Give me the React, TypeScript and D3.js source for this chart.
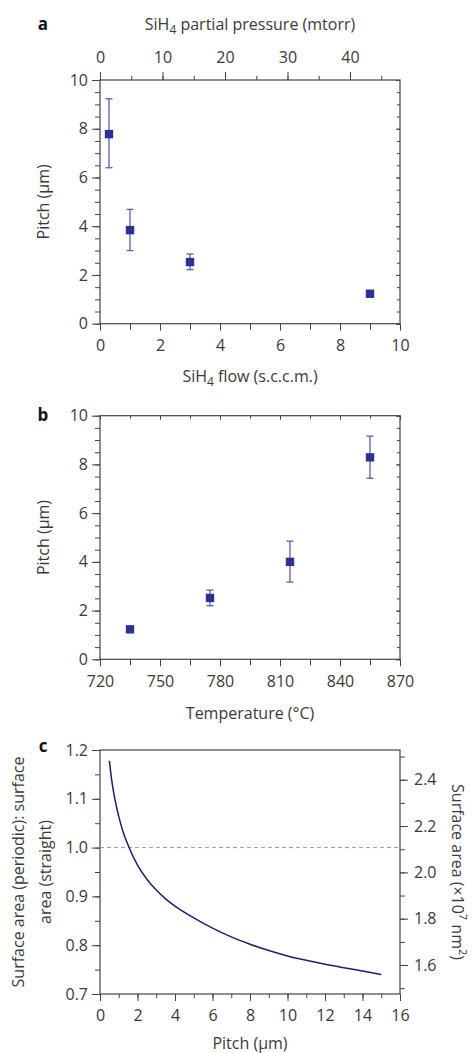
import React, { useEffect, useRef } from 'react';
import * as d3 from 'd3';

// panel a: pitch vs SiH4 flow
const flowA = [0.3, 1, 3, 9];
const pitchA = [7.78, 3.84, 2.53, 1.23];
const lowA = [6.4, 3.0, 2.22, 1.15];
const highA = [9.23, 4.69, 2.86, 1.32];

// panel b: pitch vs temperature
const tempB = [735, 775, 815, 855];
const pitchB = [1.23, 2.52, 4.0, 8.29];
const lowB = [1.15, 2.2, 3.17, 7.43];
const highB = [1.32, 2.84, 4.85, 9.16];

// panel c: surface area ratio vs pitch
const pitchC = [0.5, 0.6, 0.75, 1, 1.25, 1.5, 2, 2.5, 3, 3.5, 4, 5, 6, 7, 8, 9, 10, 11, 12, 13, 14, 15];
const ratioC = [1.178, 1.145, 1.108, 1.064, 1.03, 1.005, 0.964, 0.935, 0.913, 0.895, 0.88, 0.856, 0.835, 0.817, 0.802, 0.789, 0.778, 0.769, 0.761, 0.754, 0.747, 0.74];
const areaPerRatio = 2.107;

const FONT = '"Open Sans", sans-serif';
const TXT = '#3a3a3a';
const AX = '#444';
const MARK = '#2e3192';
const ERR = '#5b5daa';

export default function App() {
  const svgRef = useRef<SVGSVGElement>(null);

  useEffect(() => {
    const svg = d3.select(svgRef.current);
    svg.selectAll('*').remove();

    const left = 100, right = 400;

    const style = (g: any) => {
      g.selectAll('path.domain').remove();
      g.selectAll('line').attr('stroke', AX).attr('stroke-width', 1);
      g.selectAll('text').attr('font-family', FONT).attr('font-size', 16).attr('fill', TXT);
    };

    const axis = (gen: any, major: number[], minor: number[], tx: number, ty: number, fmt: any, big = 8, small = 5, pad = 4) => {
      const g1 = svg.append('g').attr('transform', `translate(${tx},${ty})`)
        .call(gen.tickValues(minor).tickSize(small).tickFormat(() => ''));
      style(g1);
      const g2 = svg.append('g').attr('transform', `translate(${tx},${ty})`)
        .call(gen.tickValues(major).tickSize(big).tickPadding(pad).tickFormat(fmt));
      style(g2);
    };

    const frame = (top: number, bottom: number) => {
      svg.append('rect').attr('x', left).attr('y', top).attr('width', right - left).attr('height', bottom - top)
        .attr('fill', 'none').attr('stroke', AX).attr('stroke-width', 1.2);
    };

    const letter = (t: string, y: number) => {
      svg.append('text').attr('x', 43).attr('y', y).attr('text-anchor', 'middle')
        .attr('font-family', FONT).attr('font-weight', 'bold').attr('font-size', 17).attr('fill', '#111').text(t);
    };

    const title = (x: number, y: number, parts: [string, string][], rotate = 0, anchor = 'middle') => {
      const t = svg.append('text')
        .attr('transform', `translate(${x},${y}) rotate(${rotate})`)
        .attr('text-anchor', anchor).attr('font-family', FONT).attr('font-size', 16).attr('fill', TXT);
      parts.forEach(([s, kind]) => {
        const sp = t.append('tspan').text(s);
        if (kind === 'sub') sp.attr('font-size', 12).attr('dy', 4);
        else if (kind === 'sup') sp.attr('font-size', 11).attr('dy', -7);
        else if (kind === 'fromSub') sp.attr('dy', -4);
        else if (kind === 'fromSup') sp.attr('dy', 7);
      });
    };

    const points = (xs: number[], ys: number[], lo: number[], hi: number[], x: any, y: any) => {
      const g = svg.append('g');
      xs.forEach((xv, i) => {
        const cx = x(xv);
        g.append('line').attr('x1', cx).attr('x2', cx).attr('y1', y(lo[i])).attr('y2', y(hi[i]))
          .attr('stroke', ERR).attr('stroke-width', 1.3);
        [lo[i], hi[i]].forEach(v => {
          g.append('line').attr('x1', cx - 3.5).attr('x2', cx + 3.5).attr('y1', y(v)).attr('y2', y(v))
            .attr('stroke', ERR).attr('stroke-width', 1.3);
        });
        g.append('rect').attr('x', cx - 4.2).attr('y', y(ys[i]) - 4.2).attr('width', 8.4).attr('height', 8.4)
          .attr('fill', MARK);
      });
    };

    const pitchTicksMinor = d3.range(0, 10.01, 0.5);
    const fmtInt = (d: number) => String(d);

    // ---------- panel a ----------
    {
      const top = 80, bottom = 323.7;
      const x = d3.scaleLinear().domain([0, 10]).range([left, right]);
      const xTop = d3.scaleLinear().domain([0, 48]).range([left, right]);
      const y = d3.scaleLinear().domain([0, 10]).range([bottom, top]);

      axis(d3.axisLeft(y), [0, 2, 4, 6, 8, 10], pitchTicksMinor, left, 0, fmtInt);
      axis(d3.axisRight(y), [0, 2, 4, 6, 8, 10], pitchTicksMinor, right, 0, () => '', -4, -3);
      axis(d3.axisBottom(x), [0, 2, 4, 6, 8, 10], d3.range(0, 10.01, 1), 0, bottom, fmtInt, 7, 6, 9);
      axis(d3.axisTop(xTop), [0, 10, 20, 30, 40], d3.range(0, 46, 5), 0, top, fmtInt, 8, 4, 9);
      frame(top, bottom);
      points(flowA, pitchA, lowA, highA, x, y);

      letter('a', 30);
      title(250, 30, [['SiH', ''], ['4', 'sub'], [' partial pressure (mtorr)', 'fromSub']]);
      title(250, 382, [['SiH', ''], ['4', 'sub'], [' flow (s.c.c.m.)', 'fromSub']]);
      title(49, (top + bottom) / 2, [['Pitch (µm)', '']], -90);
    }

    // ---------- panel b ----------
    {
      const top = 415.7, bottom = 659.3;
      const x = d3.scaleLinear().domain([720, 870]).range([left, right]);
      const y = d3.scaleLinear().domain([0, 10]).range([bottom, top]);

      axis(d3.axisLeft(y), [0, 2, 4, 6, 8, 10], pitchTicksMinor, left, 0, fmtInt);
      axis(d3.axisRight(y), [0, 2, 4, 6, 8, 10], pitchTicksMinor, right, 0, () => '', -4, -3);
      axis(d3.axisBottom(x), d3.range(720, 871, 30), d3.range(720, 871, 15), 0, bottom, fmtInt, 7, 6, 9);
      axis(d3.axisTop(x), d3.range(720, 871, 30), d3.range(720, 871, 15), 0, top, () => '', -4, -3);
      frame(top, bottom);
      points(tempB, pitchB, lowB, highB, x, y);

      letter('b', 421);
      title(250, 719, [['Temperature (°C)', '']]);
      title(49, (top + bottom) / 2, [['Pitch (µm)', '']], -90);
    }

    // ---------- panel c ----------
    {
      const top = 750, bottom = 994;
      const x = d3.scaleLinear().domain([0, 16]).range([left, right]);
      const y = d3.scaleLinear().domain([0.7, 1.2]).range([bottom, top]);
      const y2 = d3.scaleLinear().domain([0.7 * areaPerRatio, 1.2 * areaPerRatio]).range([bottom, top]);

      axis(d3.axisLeft(y), [0.7, 0.8, 0.9, 1.0, 1.1, 1.2], d3.range(0.7, 1.201, 0.05), left, 0, d3.format('.1f'));
      axis(d3.axisRight(y2), [1.6, 1.8, 2.0, 2.2, 2.4], [1.5, 1.6, 1.7, 1.8, 1.9, 2.0, 2.1, 2.2, 2.3, 2.4, 2.5], right, 0, d3.format('.1f'), 8, 5, 6);
      axis(d3.axisBottom(x), d3.range(0, 17, 2), d3.range(0, 17, 1), 0, bottom, fmtInt, 7, 4, 9);
      frame(top, bottom);

      svg.append('line').attr('x1', left).attr('x2', right).attr('y1', y(1)).attr('y2', y(1))
        .attr('stroke', '#999').attr('stroke-width', 1).attr('stroke-dasharray', '4,3');

      const line = d3.line<number>()
        .x((d, i) => x(pitchC[i]))
        .y(d => y(d))
        .curve(d3.curveMonotoneX);
      svg.append('path').datum(ratioC).attr('d', line).attr('fill', 'none')
        .attr('stroke', '#1f1f6e').attr('stroke-width', 1.5);

      letter('c', 752);
      title(250, 1049, [['Pitch (µm)', '']]);
      title(24, (top + bottom) / 2, [['Surface area (periodic): surface', '']], -90);
      title(51, (top + bottom) / 2, [['area (straight)', '']], -90);
      title(452, (top + bottom) / 2, [['Surface area (×10', ''], ['7', 'sup'], [' nm', 'fromSup'], ['2', 'sup'], [')', 'fromSup']], 90);
    }
  }, []);

  return (
    <svg ref={svgRef} width={472} height={1053}
      style={{ position: 'absolute', left: 0, top: 0, background: '#fff' }} />
  );
}
